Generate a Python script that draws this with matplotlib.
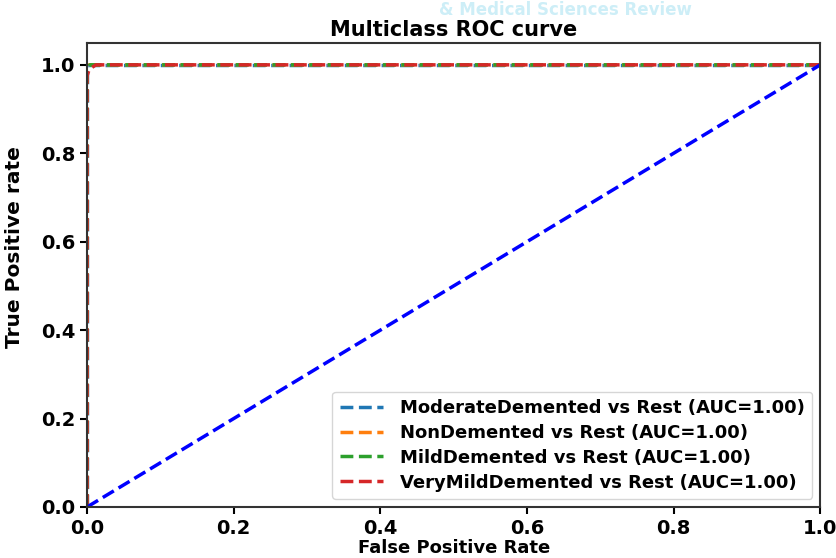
import matplotlib
matplotlib.use('Agg')
import matplotlib.pyplot as plt

# ── data ──────────────────────────────────────────────────────────────────────
class_names = ["ModerateDemented", "NonDemented", "MildDemented", "VeryMildDemented"]
auc_values = [1.00, 1.00, 1.00, 1.00]
colors = ["tab:blue", "tab:orange", "tab:green", "tab:red"]

fpr_moderate = [0.0, 0.0, 1.0]
tpr_moderate = [0.0, 1.0, 1.0]
fpr_non = [0.0, 0.0, 0.003, 1.0]
tpr_non = [0.0, 0.985, 1.0, 1.0]
fpr_mild = [0.0, 0.0, 0.004, 1.0]
tpr_mild = [0.0, 0.99, 1.0, 1.0]
fpr_verymild = [0.0, 0.0, 0.003, 0.012, 1.0]
tpr_verymild = [0.0, 0.975, 0.99, 1.0, 1.0]

fprs = [fpr_moderate, fpr_non, fpr_mild, fpr_verymild]
tprs = [tpr_moderate, tpr_non, tpr_mild, tpr_verymild]

diag = [0.0, 1.0]

# ── plot ──────────────────────────────────────────────────────────────────────
fig = plt.figure(figsize=(8.37, 5.58), dpi=100)
ax = fig.add_axes([0.104, 0.0914, 0.876, 0.832])

for name, auc, c, f, t in zip(class_names, auc_values, colors, fprs, tprs):
    ax.plot(f, t, linestyle='--', color=c, lw=2.5,
            label=f"{name} vs Rest (AUC={auc:.2f})")
ax.plot(diag, diag, 'b--', lw=2.5)

ax.set_xlim(0, 1)
ax.set_ylim(0, 1.05)
ax.set_xticks([0, 0.2, 0.4, 0.6, 0.8, 1.0])
ax.set_yticks([0, 0.2, 0.4, 0.6, 0.8, 1.0])
for lab in ax.get_xticklabels() + ax.get_yticklabels():
    lab.set_fontweight('bold')
    lab.set_fontsize(14)
ax.tick_params(width=1.5, length=5)
for sp in ax.spines.values():
    sp.set_linewidth(1.5)
    sp.set_color('#333333')

ax.set_title("Multiclass ROC curve", fontsize=15, fontweight='bold', pad=5)
ax.set_xlabel("False Positive Rate", fontsize=13, fontweight='bold', labelpad=1)
ax.set_ylabel("True Positive rate", fontsize=14.5, fontweight='bold')
ax.yaxis.set_label_coords(-0.086, 0.56)

leg = ax.legend(loc='lower right', prop={'weight': 'bold', 'size': 13},
                borderaxespad=0.45, handlelength=2.4, handletextpad=0.95,
                labelspacing=0.38, borderpad=0.4)

# faint watermark of the source page
fig.text(0.675, 0.999, "& Medical Sciences Review", color='#cdeef7',
         fontsize=12, fontweight='bold', ha='center', va='top', zorder=0)

plt.savefig("out.png", dpi=100)
